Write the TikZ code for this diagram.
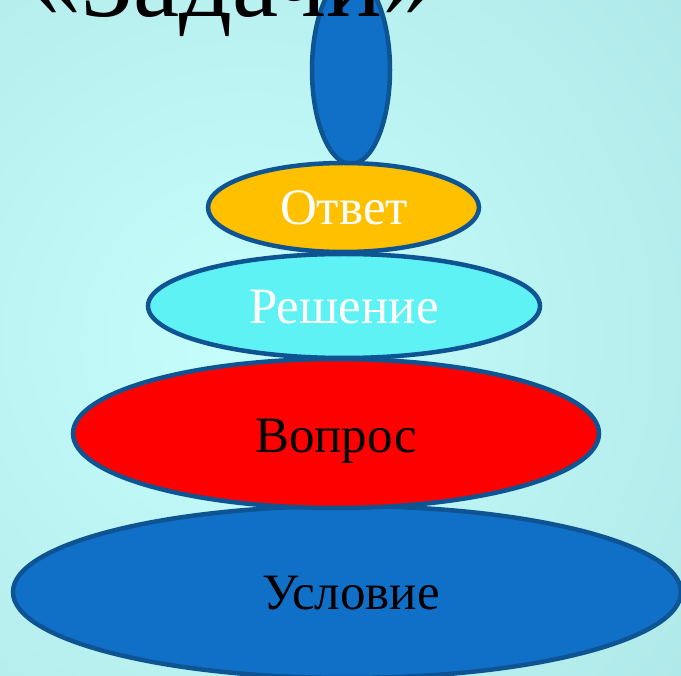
\documentclass[tikz,border=0pt]{standalone}
\usepackage{fontspec}
\setmainfont{Liberation Serif}
\usetikzlibrary{shapes.geometric}
\definecolor{bgin}{RGB}{198,254,252}
\definecolor{bgout}{RGB}{148,206,208}
\definecolor{edge}{RGB}{14,84,146}
\definecolor{blueF}{RGB}{16,112,200}
\definecolor{goldF}{RGB}{255,192,0}
\definecolor{cyanF}{RGB}{94,242,245}
\definecolor{redF}{RGB}{255,0,0}
\tikzset{
  disc/.style={ellipse, draw=edge, line width=4.5pt, inner sep=0pt},
  lbl/.style={anchor=base, inner sep=0pt, font=\fontsize{51}{58}\selectfont},
}
\begin{document}
\begin{tikzpicture}[x=1pt,y=-1pt]
\useasboundingbox (0,0) rectangle (681,676);
\begin{scope}
\clip (0,0) rectangle (681,676);
\shade[inner color=bgin, outer color=bgout] (250,340) circle (1250pt);
\node[disc, fill=blueF, minimum width=78pt, minimum height=188pt] (top) at (351,70) {};
\node[disc, fill=blueF, minimum width=668pt, minimum height=172pt] (uslov) at (347,592) {};
\node[disc, fill=redF, minimum width=526pt, minimum height=149pt] (vopr) at (336,433.5) {};
\node[disc, fill=cyanF, minimum width=392pt, minimum height=104pt] (resh) at (344,306) {};
\node[disc, fill=goldF, minimum width=271pt, minimum height=89pt] (otv) at (343.5,207.5) {};
\node[lbl, text=white] (totv) at (344,225) {Ответ};
\node[lbl, text=white] (tresh) at (344,324) {Решение};
\node[lbl, text=black] (tvopr) at (336,453) {Вопрос};
\node[lbl, text=black] (tuslov) at (351,609) {Условие};
\node[anchor=base west, inner sep=0pt, font=\fontsize{104}{114}\selectfont] (title) at (29,17) {«Задачи»};
\end{scope}
\end{tikzpicture}
\end{document}
